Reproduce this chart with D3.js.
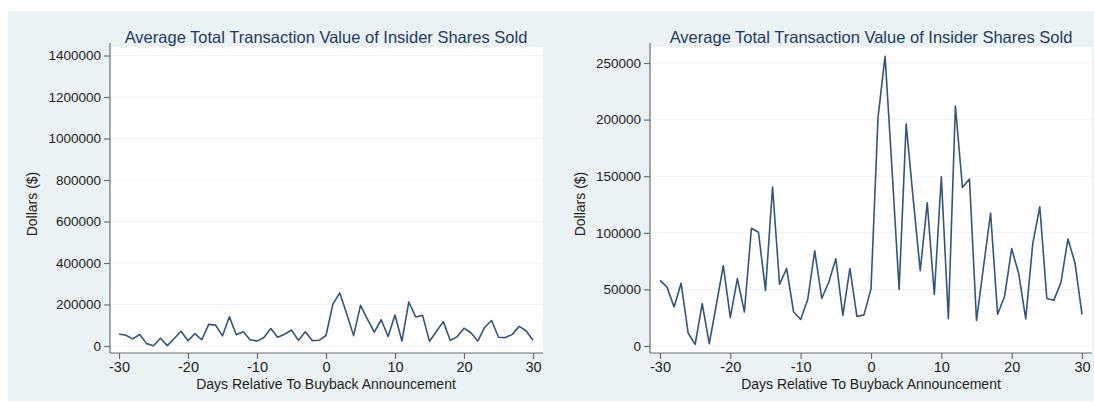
<!DOCTYPE html>
<html>
<head>
<meta charset="utf-8">
<script src="https://cdn.jsdelivr.net/npm/d3@7"></script>
<style>
  html, body { margin: 0; padding: 0; background: #ffffff; }
  svg { display: block; }
  text { font-family: "Liberation Sans", Arial, Helvetica, sans-serif; }
</style>
</head>
<body>
<svg id="chart" width="1094" height="403"></svg>
<script>
// Days relative to the buyback announcement
const days = d3.range(-30, 31);

// Average total transaction value of insider shares sold (dollars)
const avgValue = [
  58000, 52000, 34500, 55500, 11500, 1500, 37500, 2000, 36000, 71000,
  25000, 59500, 30000, 104000, 100500, 49000, 140500, 54500, 68500, 30000,
  23500, 41000, 84000, 42000, 56500, 77000, 27000, 68500, 26000, 27500,
  50500, 202000, 256000, 155000, 50000, 196000, 130000, 66500, 126500, 45500,
  149500, 24000, 212000, 140000, 147500, 22500, 70000, 117500, 28000, 44000,
  86000, 64000, 24000, 90500, 123000, 42000, 40500, 56000, 94500, 73500, 28000
];

const xTicks = [-30, -20, -10, 0, 10, 20, 30];
const yTicksWide = [0, 200000, 400000, 600000, 800000, 1000000, 1200000, 1400000];
const yTicksTight = [0, 50000, 100000, 150000, 200000, 250000];

const titleText = "Average Total Transaction Value of Insider Shares Sold";
const xTitle = "Days Relative To Buyback Announcement";
const yTitle = "Dollars ($)";

// plain integers with an ASCII hyphen for negatives
const intLabel = d => String(d);

const svg = d3.select("#chart");

// shared light background behind both panels
svg.append("rect")
  .attr("x", 8).attr("y", 11).attr("width", 1086).attr("height", 390)
  .attr("fill", "#eaf2f3");

function panel(cfg) {
  const g = svg.append("g");
  const x = d3.scaleLinear().domain([-30, 30]).range([cfg.x0, cfg.x1]);
  const y = d3.scaleLinear().domain([0, cfg.yMax]).range([cfg.yBase, cfg.yTop]);

  // white plot region
  g.append("rect")
    .attr("x", cfg.left).attr("y", cfg.top)
    .attr("width", cfg.right - cfg.left).attr("height", cfg.bottom - cfg.top)
    .attr("fill", "#ffffff");

  // horizontal grid
  g.append("g").selectAll("line").data(cfg.yTicks).join("line")
    .attr("x1", cfg.left).attr("x2", cfg.right)
    .attr("y1", d => y(d)).attr("y2", d => y(d))
    .attr("stroke", "#eef3f4").attr("stroke-width", 1);

  // y axis
  const ya = g.append("g")
    .attr("transform", `translate(${cfg.left},0)`)
    .call(d3.axisLeft(y).tickValues(cfg.yTicks).tickFormat(intLabel).tickSize(6).tickPadding(3));
  ya.select(".domain").attr("d", `M0,${cfg.top - 4}V${cfg.bottom}`);

  // x axis
  const xa = g.append("g")
    .attr("transform", `translate(0,${cfg.bottom})`)
    .call(d3.axisBottom(x).tickValues(cfg.xTicks).tickFormat(intLabel).tickSize(6).tickPadding(3));
  xa.select(".domain").attr("d", `M${cfg.left},0H${cfg.right}`);

  [ya, xa].forEach(a => {
    a.selectAll(".domain").attr("stroke", "#6b6f72").attr("stroke-width", 1.2);
    a.selectAll(".tick line").attr("stroke", "#6b6f72").attr("stroke-width", 1.2);
    a.selectAll(".tick text").attr("fill", "#222").attr("font-size", 13.5)
      .attr("font-family", "'Liberation Sans', Arial, sans-serif");
  });
  xa.selectAll(".tick text").attr("font-size", 14.5);

  // series line
  const line = d3.line().x((d, i) => x(days[i])).y(d => y(d));
  g.append("path").datum(avgValue)
    .attr("d", line)
    .attr("fill", "none")
    .attr("stroke", "#34557a")
    .attr("stroke-width", 1.6)
    .attr("stroke-linejoin", "round");

  // titles
  g.append("text")
    .attr("x", cfg.titleX).attr("y", 43)
    .attr("text-anchor", "middle")
    .attr("font-size", 16.5)
    .attr("fill", "#1f3a64")
    .text(titleText);

  g.append("text")
    .attr("x", (cfg.x0 + cfg.x1) / 2).attr("y", 389)
    .attr("text-anchor", "middle")
    .attr("font-size", 14)
    .attr("fill", "#222")
    .text(xTitle);

  g.append("text")
    .attr("transform", `translate(${cfg.yTitleX},${(cfg.top + cfg.bottom) / 2 + 4}) rotate(-90)`)
    .attr("text-anchor", "middle")
    .attr("font-size", 14)
    .attr("fill", "#222")
    .text(yTitle);
}

panel({
  left: 110, right: 543, top: 47, bottom: 353,
  x0: 119, x1: 533, yBase: 346, yTop: 55.5, yMax: 1400000,
  yTicks: yTicksWide, xTicks: xTicks, titleX: 326, yTitleX: 37
});

panel({
  left: 650, right: 1092, top: 47, bottom: 353,
  x0: 660, x1: 1082, yBase: 346, yTop: 63, yMax: 250000,
  yTicks: yTicksTight, xTicks: xTicks, titleX: 871, yTitleX: 585
});
</script>
</body>
</html>
